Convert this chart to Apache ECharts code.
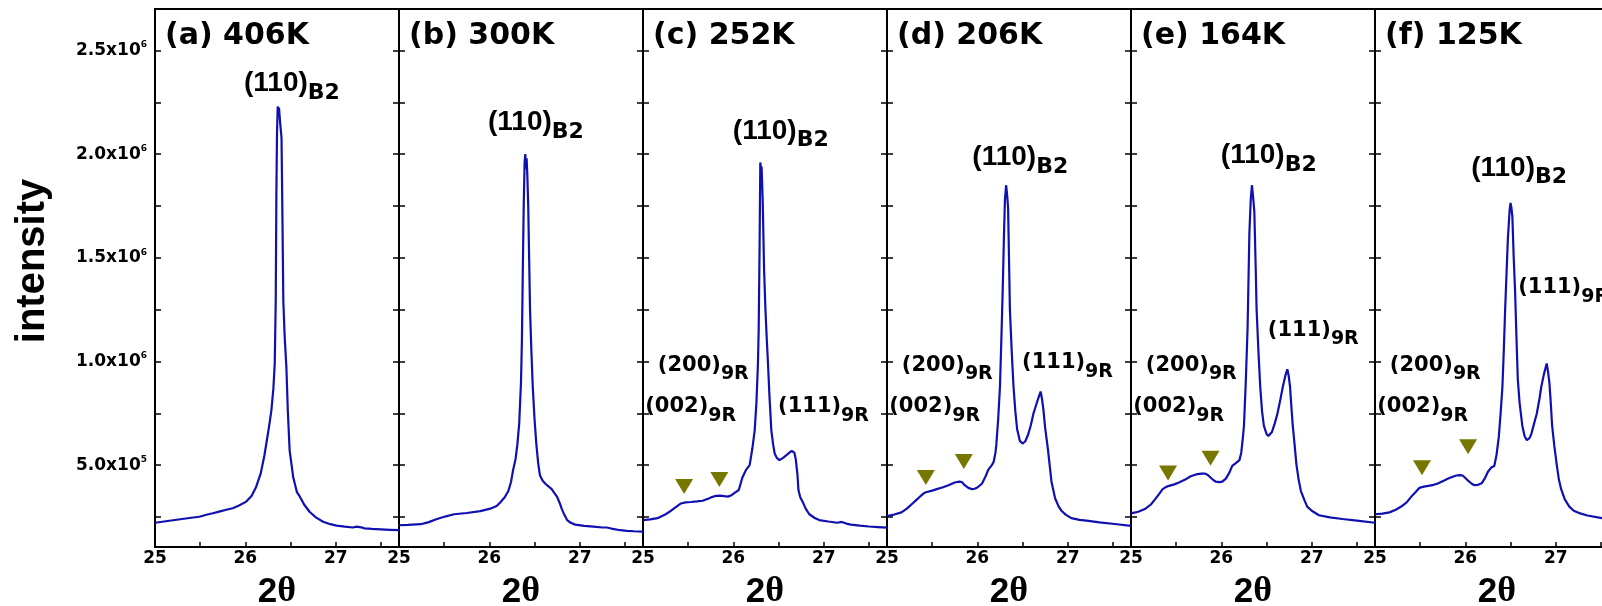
<!DOCTYPE html>
<html>
<head>
<meta charset="utf-8">
<script src="https://cdn.jsdelivr.net/npm/echarts@6.0.0/dist/echarts.min.js"></script>
<style>
  html, body { margin: 0; padding: 0; background: #fff; }
  #chart { width: 1602px; height: 606px; }
</style>
</head>
<body>
<div id="chart"></div>
<script>
// X-ray diffraction scans around the (110) B2 reflection, recorded at six temperatures.

const panelTitles = ['(a) 406K', '(b) 300K', '(c) 252K', '(d) 206K', '(e) 164K', '(f) 125K'];

// 2θ (degrees) and intensity (counts) for each temperature
const twoThetaA = [25.00, 25.10, 25.20, 25.30, 25.40, 25.49, 25.58, 25.64, 25.72, 25.80, 25.86, 25.93, 26.01, 26.07, 26.12, 26.17, 26.21, 26.232, 26.26, 26.288, 26.31, 26.325, 26.336, 26.343, 26.350, 26.358, 26.366, 26.372, 26.385, 26.400, 26.410, 26.420, 26.435, 26.454, 26.47, 26.49, 26.53, 26.57, 26.60, 26.65, 26.71, 26.78, 26.86, 26.94, 27.01, 27.10, 27.19, 27.23, 27.25, 27.28, 27.32, 27.40, 27.50, 27.60, 27.70];
const intensityA = [222000, 228000, 234000, 240000, 246000, 251000, 262000, 268000, 277000, 286000, 292000, 305000, 324000, 352000, 396000, 460000, 545000, 604000, 680000, 764000, 870000, 990000, 1290000, 1800000, 2100000, 2230000, 2200000, 2225000, 2150000, 2080000, 1700000, 1290000, 1120000, 970000, 760000, 570000, 440000, 370000, 350000, 310000, 275000, 248000, 227000, 215000, 208000, 203000, 199000, 203000, 207000, 200000, 195000, 192000, 190000, 188000, 186000];

const twoThetaB = [25.00, 25.10, 25.24, 25.33, 25.42, 25.52, 25.61, 25.75, 25.90, 26.01, 26.08, 26.12, 26.17, 26.21, 26.24, 26.26, 26.29, 26.31, 26.33, 26.35, 26.36, 26.37, 26.38, 26.39, 26.398, 26.405, 26.412, 26.42, 26.43, 26.44, 26.45, 26.465, 26.48, 26.50, 26.52, 26.54, 26.56, 26.59, 26.62, 26.66, 26.69, 26.72, 26.75, 26.78, 26.80, 26.83, 26.86, 26.90, 26.95, 27.05, 27.15, 27.25, 27.30, 27.35, 27.45, 27.52, 27.60, 27.70];
const intensityB = [210000, 212000, 215000, 225000, 240000, 253000, 263000, 269000, 278000, 290000, 303000, 320000, 345000, 375000, 420000, 470000, 530000, 600000, 700000, 900000, 1100000, 1440000, 1750000, 1960000, 2000000, 1930000, 1980000, 1900000, 1750000, 1500000, 1250000, 1050000, 880000, 720000, 600000, 510000, 450000, 425000, 410000, 395000, 384000, 365000, 347000, 315000, 290000, 260000, 235000, 222000, 213000, 207000, 203000, 199000, 199000, 194000, 186000, 183000, 181000, 179000];

const twoThetaC = [25.00, 25.08, 25.16, 25.24, 25.31, 25.37, 25.42, 25.47, 25.53, 25.60, 25.66, 25.72, 25.77, 25.81, 25.85, 25.90, 25.94, 25.98, 26.01, 26.06, 26.10, 26.14, 26.18, 26.21, 26.236, 26.255, 26.272, 26.28, 26.29, 26.298, 26.305, 26.312, 26.325, 26.34, 26.355, 26.365, 26.383, 26.40, 26.42, 26.44, 26.457, 26.48, 26.51, 26.55, 26.587, 26.62, 26.645, 26.66, 26.675, 26.69, 26.71, 26.72, 26.74, 26.77, 26.80, 26.84, 26.90, 26.95, 27.05, 27.15, 27.20, 27.25, 27.30, 27.40, 27.50, 27.60, 27.70];
const intensityC = [235000, 238000, 244000, 260000, 280000, 300000, 315000, 320000, 322000, 325000, 328000, 338000, 347000, 352000, 353000, 350000, 348000, 355000, 365000, 380000, 440000, 477000, 500000, 580000, 668000, 800000, 990000, 1150000, 1550000, 1960000, 1930000, 1940000, 1770000, 1440000, 1250000, 1150000, 990000, 828000, 668000, 600000, 556000, 535000, 524000, 535000, 548000, 560000, 568000, 575000, 560000, 530000, 450000, 380000, 345000, 320000, 290000, 263000, 245000, 235000, 228000, 222000, 226000, 218000, 213000, 208000, 204000, 201000, 198000];

const twoThetaD = [25.00, 25.08, 25.16, 25.22, 25.27, 25.32, 25.37, 25.41, 25.44, 25.50, 25.55, 25.62, 25.68, 25.75, 25.80, 25.83, 25.86, 25.90, 25.94, 25.97, 26.00, 26.05, 26.09, 26.12, 26.16, 26.18, 26.20, 26.21, 26.23, 26.25, 26.265, 26.28, 26.295, 26.305, 26.318, 26.33, 26.34, 26.35, 26.36, 26.38, 26.40, 26.42, 26.44, 26.47, 26.50, 26.53, 26.56, 26.59, 26.62, 26.65, 26.68, 26.70, 26.715, 26.73, 26.75, 26.78, 26.80, 26.82, 26.86, 26.90, 26.93, 26.98, 27.04, 27.13, 27.23, 27.35, 27.52, 27.70];
const intensityD = [254000, 262000, 272000, 290000, 310000, 330000, 350000, 365000, 370000, 377000, 384000, 393000, 403000, 416000, 420000, 418000, 403000, 390000, 384000, 386000, 392000, 410000, 445000, 477000, 500000, 515000, 560000, 600000, 720000, 878000, 1100000, 1340000, 1620000, 1780000, 1850000, 1800000, 1740000, 1500000, 1250000, 1050000, 878000, 760000, 673000, 617000, 604000, 615000, 645000, 690000, 748000, 790000, 830000, 855000, 820000, 770000, 680000, 580000, 500000, 420000, 340000, 300000, 280000, 260000, 244000, 236000, 231000, 224000, 216000, 207000];

const twoThetaE = [25.00, 25.08, 25.16, 25.22, 25.27, 25.31, 25.35, 25.39, 25.42, 25.48, 25.53, 25.60, 25.66, 25.72, 25.78, 25.82, 25.85, 25.88, 25.91, 25.94, 25.98, 26.01, 26.05, 26.09, 26.12, 26.16, 26.20, 26.22, 26.235, 26.25, 26.27, 26.29, 26.31, 26.325, 26.338, 26.35, 26.365, 26.38, 26.39, 26.41, 26.43, 26.45, 26.47, 26.50, 26.52, 26.54, 26.56, 26.59, 26.62, 26.65, 26.68, 26.71, 26.73, 26.745, 26.76, 26.775, 26.79, 26.81, 26.83, 26.855, 26.88, 26.92, 26.95, 27.00, 27.08, 27.20, 27.34, 27.50, 27.70];
const intensityE = [267000, 275000, 290000, 310000, 337000, 360000, 384000, 395000, 400000, 407000, 416000, 430000, 446000, 455000, 459000, 459000, 452000, 440000, 428000, 420000, 418000, 420000, 435000, 465000, 496000, 510000, 524000, 560000, 620000, 690000, 900000, 1160000, 1620000, 1780000, 1850000, 1800000, 1720000, 1450000, 1250000, 1050000, 878000, 760000, 690000, 650000, 640000, 645000, 660000, 700000, 748000, 810000, 878000, 935000, 962000, 930000, 878000, 780000, 690000, 600000, 505000, 430000, 375000, 330000, 300000, 280000, 258000, 248000, 240000, 232000, 222000];

const twoThetaF = [25.00, 25.08, 25.16, 25.23, 25.29, 25.35, 25.40, 25.45, 25.49, 25.54, 25.59, 25.65, 25.70, 25.76, 25.81, 25.86, 25.90, 25.94, 25.97, 26.00, 26.03, 26.07, 26.10, 26.14, 26.18, 26.22, 26.25, 26.29, 26.32, 26.345, 26.37, 26.39, 26.41, 26.425, 26.44, 26.455, 26.47, 26.49, 26.50, 26.51, 26.52, 26.535, 26.55, 26.565, 26.58, 26.60, 26.63, 26.655, 26.68, 26.71, 26.73, 26.76, 26.79, 26.82, 26.84, 26.87, 26.90, 26.915, 26.93, 26.945, 26.96, 26.985, 27.01, 27.035, 27.06, 27.10, 27.15, 27.20, 27.27, 27.35, 27.51, 27.60, 27.70];
const intensityF = [263000, 266000, 272000, 285000, 300000, 320000, 347000, 370000, 390000, 396000, 400000, 405000, 412000, 425000, 435000, 444000, 450000, 452000, 450000, 438000, 425000, 410000, 403000, 405000, 412000, 440000, 468000, 490000, 496000, 550000, 636000, 750000, 878000, 1050000, 1250000, 1420000, 1590000, 1730000, 1765000, 1740000, 1700000, 1500000, 1340000, 1120000, 915000, 800000, 690000, 640000, 620000, 630000, 650000, 700000, 748000, 820000, 878000, 940000, 990000, 950000, 897000, 800000, 690000, 590000, 505000, 430000, 384000, 335000, 300000, 280000, 267000, 257000, 244000, 238000, 232000];

// Reflection labels: [2θ of label start, intensity at label centre, indices, phase]
const labelsA = [[25.99, 2338000, '(110)', 'B2']];
const labelsB = [[25.99, 2150000, '(110)', 'B2']];
const labelsC = [[26.00, 2110000, '(110)', 'B2'], [25.17, 980000, '(200)', '9R'], [25.03, 778000, '(002)', '9R'], [26.50, 778000, '(111)', '9R']];
const labelsD = [[25.95, 1980000, '(110)', 'B2'], [25.17, 980000, '(200)', '9R'], [25.03, 778000, '(002)', '9R'], [26.50, 990000, '(111)', '9R']];
const labelsE = [[26.00, 1990000, '(110)', 'B2'], [25.17, 980000, '(200)', '9R'], [25.03, 778000, '(002)', '9R'], [26.52, 1148000, '(111)', '9R']];
const labelsF = [[26.07, 1930000, '(110)', 'B2'], [25.17, 980000, '(200)', '9R'], [25.03, 778000, '(002)', '9R'], [26.59, 1353000, '(111)', '9R']];

// 9R martensite reflections marked with triangles: [2θ, intensity]
const marksA = [];
const marksB = [];
const marksC = [[25.455, 397000], [25.845, 430000]];
const marksD = [[25.43, 440000], [25.85, 518000]];
const marksE = [[25.41, 462000], [25.88, 533000]];
const marksF = [[25.52, 487000], [26.03, 589000]];

// Axis ticks
const xTicks = [25, 25.5, 26, 26.5, 27, 27.5];
const xTickLabels = [25, 26, 27];
const yTicks = [250000, 500000, 750000, 1000000, 1250000, 1500000, 1750000, 2000000, 2250000, 2500000];
const yTickLabels = [500000, 1000000, 1500000, 2000000, 2500000];

const scans = [
  [twoThetaA, intensityA], [twoThetaB, intensityB], [twoThetaC, intensityC],
  [twoThetaD, intensityD], [twoThetaE, intensityE], [twoThetaF, intensityF]
];
const peakLabels = [labelsA, labelsB, labelsC, labelsD, labelsE, labelsF];
const peakMarks = [marksA, marksB, marksC, marksD, marksE, marksF];

// Layout of the six side-by-side panels (pixels)
const PANEL_LEFT0 = 155, PANEL_W = 244, PANEL_TOP = 9, PANEL_H = 538;
const X_MIN = 25, X_MAX = 27.7, Y_MIN = 105000, Y_MAX = 2700000;

const BOLD_WIDE = 'DejaVu Sans';
const BOLD_NARROW = 'Liberation Sans';
const LINE_COLOR = '#1010b0';
const MARK_COLOR = '#777700';

function sciLabel(v) {
  const e = Math.floor(Math.log10(v) + 1e-9);
  const m = (v / Math.pow(10, e)).toFixed(1);
  return '{m|' + m + 'x10}{s|' + e + '}';
}

const grids = [], xAxes = [], yAxes = [], series = [], graphics = [];

scans.forEach(([tt, inten], i) => {
  const left = PANEL_LEFT0 + PANEL_W * i;
  grids.push({
    left: left, top: PANEL_TOP, width: PANEL_W, height: PANEL_H,
    containLabel: false, outerBoundsMode: 'none',
    show: true, borderColor: '#000', borderWidth: 2, backgroundColor: 'rgba(0,0,0,0)'
  });

  xAxes.push({
    type: 'value', gridIndex: i, min: X_MIN, max: X_MAX,
    axisLine: { show: true, onZero: false, lineStyle: { color: '#000', width: 2 } },
    axisTick: { show: true, inside: true, length: 5, customValues: xTicks, lineStyle: { color: '#000', width: 1.5 } },
    minorTick: { show: false },
    axisLabel: {
      show: true, customValues: xTickLabels, margin: 3,
      color: '#000', fontFamily: BOLD_WIDE, fontWeight: 'bold', fontSize: 17
    },
    splitLine: { show: false },
    name: '{n|2}{t|θ}', nameLocation: 'middle', nameGap: 28,
    nameTextStyle: {
      color: '#000',
      rich: {
        n: { fontFamily: BOLD_NARROW, fontWeight: 'bold', fontSize: 35, lineHeight: 34, color: '#000' },
        t: { fontFamily: 'Liberation Serif', fontWeight: 'bold', fontSize: 36, lineHeight: 34, color: '#000' }
      }
    }
  });

  const yCommon = {
    type: 'value', gridIndex: i, min: Y_MIN, max: Y_MAX,
    axisLine: { show: true, onZero: false, lineStyle: { color: '#000', width: 2 } },
    axisTick: { show: true, inside: true, length: 6, customValues: yTicks, lineStyle: { color: '#000', width: 1.5 } },
    splitLine: { show: false }
  };
  yAxes.push(Object.assign({}, yCommon, {
    position: 'left',
    axisLabel: {
      show: i === 0, customValues: yTickLabels, margin: 8, color: '#000',
      formatter: sciLabel,
      rich: {
        m: { fontFamily: BOLD_WIDE, fontWeight: 'bold', fontSize: 17, lineHeight: 20, color: '#000', verticalAlign: 'middle' },
        s: { fontFamily: BOLD_WIDE, fontWeight: 'bold', fontSize: 9, lineHeight: 9, color: '#000', verticalAlign: 'top' }
      }
    }
  }));
  yAxes.push(Object.assign({}, yCommon, { position: 'right', axisLabel: { show: false } }));

  // diffraction profile
  series.push({
    type: 'line', xAxisIndex: i, yAxisIndex: 2 * i,
    data: tt.map((x, k) => [x, inten[k]]),
    showSymbol: false, symbol: 'none', smooth: false,
    lineStyle: { color: LINE_COLOR, width: 2.2 },
    silent: true, animation: false, z: 3
  });

  // 9R reflection markers
  series.push({
    type: 'scatter', xAxisIndex: i, yAxisIndex: 2 * i,
    data: peakMarks[i],
    symbol: 'triangle', symbolRotate: 180, symbolSize: [18, 15],
    itemStyle: { color: MARK_COLOR, opacity: 1 }, silent: true, animation: false, z: 4
  });

  // reflection labels with subscripted phase
  series.push({
    type: 'scatter', xAxisIndex: i, yAxisIndex: 2 * i,
    data: peakLabels[i].map(([x, y, idx, phase]) => ({ value: [x, y], idx: idx, phase: phase })),
    symbolSize: 1, itemStyle: { color: 'rgba(0,0,0,0)' },
    silent: true, animation: false, z: 5,
    label: {
      show: true, position: [0, 0], align: 'left', verticalAlign: 'middle',
      color: '#000', opacity: 1, textBorderWidth: 0, textShadowBlur: 0,
      formatter: p => p.data.phase === 'B2'
        ? '{bm|' + p.data.idx + '}{bs|' + p.data.phase + '}'
        : '{rm|' + p.data.idx + '}{rs|' + p.data.phase + '}',
      rich: {
        bm: { fontFamily: BOLD_NARROW, fontWeight: 'bold', fontSize: 28, lineHeight: 41, color: '#000', verticalAlign: 'middle' },
        bs: { fontFamily: BOLD_WIDE, fontWeight: 'bold', fontSize: 22, lineHeight: 22, color: '#000', verticalAlign: 'bottom' },
        rm: { fontFamily: BOLD_WIDE, fontWeight: 'bold', fontSize: 21, lineHeight: 37, color: '#000', verticalAlign: 'middle' },
        rs: { fontFamily: BOLD_WIDE, fontWeight: 'bold', fontSize: 19, lineHeight: 19, color: '#000', verticalAlign: 'bottom' }
      }
    },
    emphasis: { disabled: true }
  });

  // panel title
  graphics.push({
    type: 'text', x: left + 10, y: 36, silent: true, z: 10,
    style: {
      text: panelTitles[i], fill: '#000',
      font: 'bold 30px "DejaVu Sans"', align: 'left', verticalAlign: 'middle'
    }
  });
});

// shared intensity axis title
graphics.push({
  type: 'text', x: 33, y: 261, rotation: Math.PI / 2, silent: true, z: 10,
  style: {
    text: 'intensity', fill: '#000',
    font: 'bold 40px "Liberation Sans"', align: 'center', verticalAlign: 'middle'
  }
});

const chart = echarts.init(document.getElementById('chart'), null, { renderer: 'canvas' });
chart.setOption({
  animation: false,
  backgroundColor: '#fff',
  grid: grids,
  xAxis: xAxes,
  yAxis: yAxes,
  series: series,
  graphic: graphics
});
</script>
</body>
</html>
